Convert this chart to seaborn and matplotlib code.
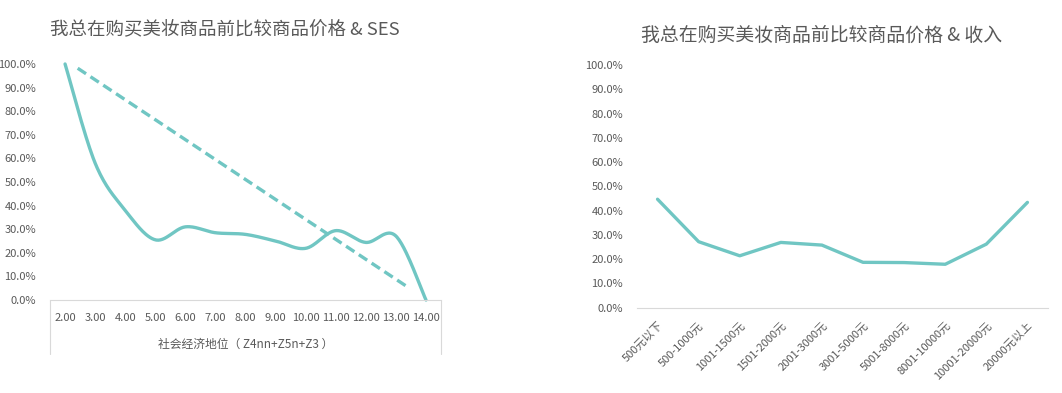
#!/usr/bin/env python3

import numpy as np
import pandas as pd
import matplotlib
matplotlib.use('Agg')
import matplotlib.pyplot as plt
import seaborn as sns
from matplotlib.ticker import PercentFormatter

# data
ses = [2, 3, 4, 5, 6, 7, 8, 9, 10, 11, 12, 13, 14]
ses_share = [1.00, 0.58, 0.38, 0.255, 0.31, 0.285, 0.278, 0.25, 0.219,
             0.294, 0.244, 0.271, 0.0]
trend_x = [2.42, 13.39]
trend_y = [0.982, 0.055]

income = ['500元以下', '500-1000元', '1001-1500元', '1501-2000元', '2001-3000元',
          '3001-5000元', '5001-8000元', '8001-10000元', '10001-20000元', '20000元以上']
income_share = [0.447, 0.272, 0.214, 0.269, 0.258, 0.187, 0.186, 0.179, 0.262, 0.434]

title_left = '我总在购买美妆商品前比较商品价格 & SES'
title_right = '我总在购买美妆商品前比较商品价格 & 收入'
xlabel_left = '社会经济地位（ Z4nn+Z5n+Z3 ）'

teal = '#70c6c3'
grey = '#595959'
axis_grey = '#d9d9d9'


def smooth(x, y, n=30):
    # Excel style smoothed line: cubic bezier with catmull-rom control points
    x = np.asarray(x, float)
    y = np.asarray(y, float)
    px = np.r_[x[0], x, x[-1]]
    py = np.r_[y[0], y, y[-1]]
    xs, ys = [], []
    t = np.linspace(0, 1, n)
    for i in range(1, len(px) - 2):
        p0 = np.array([px[i], py[i]])
        p3 = np.array([px[i + 1], py[i + 1]])
        c1 = p0 + (p3 - np.array([px[i - 1], py[i - 1]])) / 6
        c2 = p3 - (np.array([px[i + 2], py[i + 2]]) - p0) / 6
        b = ((1 - t) ** 3)[:, None] * p0 + (3 * (1 - t) ** 2 * t)[:, None] * c1 \
            + (3 * (1 - t) * t ** 2)[:, None] * c2 + (t ** 3)[:, None] * p3
        xs.extend(b[:, 0])
        ys.extend(b[:, 1])
    return np.array(xs), np.array(ys)


sns.set_theme(style='white')
plt.rcParams['font.family'] = ['Noto Sans CJK SC', 'DejaVu Sans']

fig = plt.figure(figsize=(10.62, 3.93), dpi=100)
ax1 = fig.add_axes([0.0471, 0.2366, 0.3682, 0.6006])
ax2 = fig.add_axes([0.5998, 0.217, 0.387, 0.6176])

# left chart
sx, sy = smooth(ses, ses_share)
smooth_df = pd.DataFrame({'x': sx, 'y': sy})
sns.lineplot(data=smooth_df, x='x', y='y', ax=ax1, color=teal, lw=2.4,
             sort=False, clip_on=False)
ax1.plot(trend_x, trend_y, color=teal, lw=2.4, ls=(0, (3, 1.6)))
ax1.set_xlim(ses[0] - 0.5, ses[-1] + 0.5)
ax1.set_ylim(0, 1)
ax1.set_xticks(ses)
ax1.set_xticklabels([f'{v:.2f}' for v in ses])
ax1.set_yticks(np.arange(0, 1.01, 0.1))
ax1.yaxis.set_major_formatter(PercentFormatter(1.0, decimals=1))
ax1.set_xlabel(xlabel_left, color=grey, fontsize=8.5, labelpad=11)
ax1.set_ylabel('')
ax1.set_title(title_left, color=grey, fontsize=13.3, loc='left', x=0.0, y=1.09)
for s in ['top', 'right', 'left']:
    ax1.spines[s].set_visible(False)
ax1.spines['bottom'].set_color(axis_grey)
ax1.spines['bottom'].set_linewidth(0.8)
for xv in [0, 1]:
    ax1.plot([xv, xv], [0, -0.23], transform=ax1.transAxes, color=axis_grey,
             lw=0.8, clip_on=False)
ax1.tick_params(axis='both', length=0, colors=grey, labelsize=8)
ax1.tick_params(axis='y', pad=10)
ax1.tick_params(axis='x', pad=9)

# right chart
inc_df = pd.DataFrame({'income': income, 'share': income_share})
sns.lineplot(data=inc_df, x='income', y='share', ax=ax2, color=teal, lw=2.4,
             sort=False)
ax2.set_xlim(-0.5, len(income) - 0.5)
ax2.set_ylim(0, 1)
ax2.set_yticks(np.arange(0, 1.01, 0.1))
ax2.yaxis.set_major_formatter(PercentFormatter(1.0, decimals=1))
ax2.set_xticks(range(len(income)))
ax2.set_xticklabels(income, rotation=45, ha='right', rotation_mode='anchor')
ax2.set_xlabel('')
ax2.set_ylabel('')
ax2.set_title(title_right, color=grey, fontsize=13.6, x=0.448, y=1.065)
for s in ['top', 'right', 'left']:
    ax2.spines[s].set_visible(False)
ax2.spines['bottom'].set_color(axis_grey)
ax2.spines['bottom'].set_linewidth(0.8)
ax2.tick_params(axis='both', length=0, colors=grey, labelsize=8)
ax2.tick_params(axis='y', pad=10)
ax2.tick_params(axis='x', pad=9)

fig.savefig('out.png', dpi=100)
